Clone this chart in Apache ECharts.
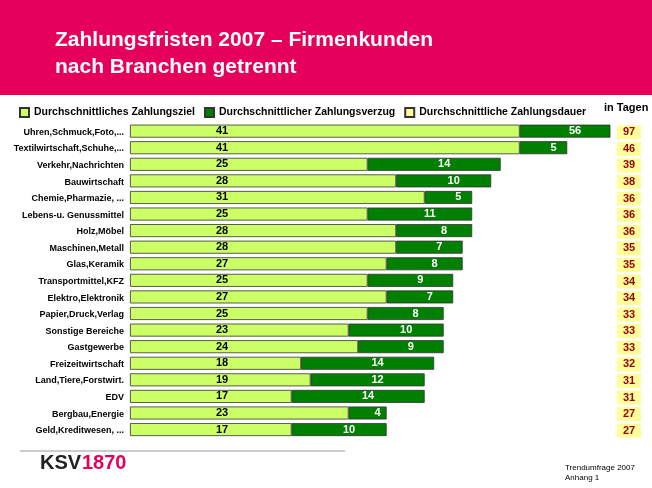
<!DOCTYPE html>
<html>
<head>
<meta charset="utf-8">
<script src="https://cdn.jsdelivr.net/npm/echarts@6/dist/echarts.min.js"></script>
<style>body{margin:0;background:#fff}#container{width:652px;height:488px}</style>
</head>
<body>
<div id="container"></div>
<script>
var dom = document.getElementById("container");
var myChart = echarts.init(dom);

var branchen = ['Uhren,Schmuck,Foto,...','Textilwirtschaft,Schuhe,...','Verkehr,Nachrichten','Bauwirtschaft',
    'Chemie,Pharmazie, ...','Lebens-u. Genussmittel','Holz,Möbel','Maschinen,Metall','Glas,Keramik',
    'Transportmittel,KFZ','Elektro,Elektronik','Papier,Druck,Verlag','Sonstige Bereiche','Gastgewerbe',
    'Freizeitwirtschaft','Land,Tiere,Forstwirt.','EDV','Bergbau,Energie','Geld,Kreditwesen, ...'];
var ziel    = [41,41,25,28,31,25,28,28,27,25,27,25,23,24,18,19,17,23,17];
var verzug  = [56,5,14,10,5,11,8,7,8,9,7,8,10,9,14,12,14,4,10];
var dauer   = [97,46,39,38,36,36,36,35,35,34,34,33,33,33,32,31,31,27,27];

var option = {
    animation: false,
    graphic: [
        {type:'rect', shape:{x:0,y:0,width:652,height:95}, style:{fill:'#e6005c'}},
        {type:'text', left:55, top:27, style:{text:'Zahlungsfristen 2007 – Firmenkunden\nnach Branchen getrennt', fill:'#fff', font:'bold 21px Arial, Liberation Sans', lineHeight:27}},
        {type:'text', left:604, top:102, style:{text:'in Tagen', fill:'#000', font:'bold 11px Arial, Liberation Sans'}},
        {type:'line', shape:{x1:20,y1:451,x2:345,y2:451}, style:{stroke:'#999', lineWidth:1}},
        {type:'text', left:40, top:453, style:{text:'KSV', fill:'#222', font:'bold 20px Arial, Liberation Sans'}},
        {type:'text', left:82, top:453, style:{text:'1870', fill:'#e6005c', font:'bold 20px Arial, Liberation Sans'}},
        {type:'text', left:565, top:463, style:{text:'Trendumfrage 2007\nAnhang 1', fill:'#000', font:'8px Arial, Liberation Sans', lineHeight:10}}
    ],
    legend: {
        left: 14, top: 102, itemWidth: 9, itemHeight: 9, itemGap: 9, icon: 'rect',
        textStyle: {fontSize: 10.5, fontWeight: 'bold', color: '#000', fontFamily: 'Arial, Liberation Sans'},
        data: ['Durchschnittliches Zahlungsziel','Durchschnittlicher Zahlungsverzug','Durchschnittliche Zahlungsdauer']
    },
    grid: {left: 130, right: 42, top: 124, bottom: 49},
    xAxis: {type: 'value', min: 0, max: 50.5, show: false},
    yAxis: [{
        type: 'category', inverse: true, data: branchen,
        axisLine: {show: false}, axisTick: {show: false},
        axisLabel: {fontSize: 9, fontWeight: 'bold', color: '#000', margin: 6, fontFamily: 'Arial, Liberation Sans'}
    },{
        type: 'category', inverse: true, position: 'right', data: dauer,
        axisLine: {show: false}, axisTick: {show: false},
        axisLabel: {fontSize: 11, fontWeight: 'bold', color: '#990000', margin: 19, backgroundColor: '#ffff99',
            width: 24, align: 'center', padding: [2, 0, 1, 0], fontFamily: 'Arial, Liberation Sans'}
    }],
    series: [{
        name: 'Durchschnittliches Zahlungsziel', type: 'bar', stack: 't', barWidth: 13,
        itemStyle: {color: '#ccff66', borderColor: '#333', borderWidth: 0.8},
        label: {show: true, position: 'insideLeft', distance: 86, color: '#000', fontWeight: 'bold', fontSize: 11},
        data: ziel
    },{
        name: 'Durchschnittlicher Zahlungsverzug', type: 'bar', stack: 't', barWidth: 13, clip: true,
        itemStyle: {color: '#008000', borderColor: '#333', borderWidth: 0.8},
        label: {show: true, position: 'inside', offset: [10, 0], color: '#fff', fontWeight: 'bold', fontSize: 11},
        data: verzug
    },{
        name: 'Durchschnittliche Zahlungsdauer', type: 'bar', data: [],
        itemStyle: {color: '#ffff99', borderColor: '#333', borderWidth: 0.8}
    }]
};
myChart.setOption(option, true);
</script>
</body>
</html>
